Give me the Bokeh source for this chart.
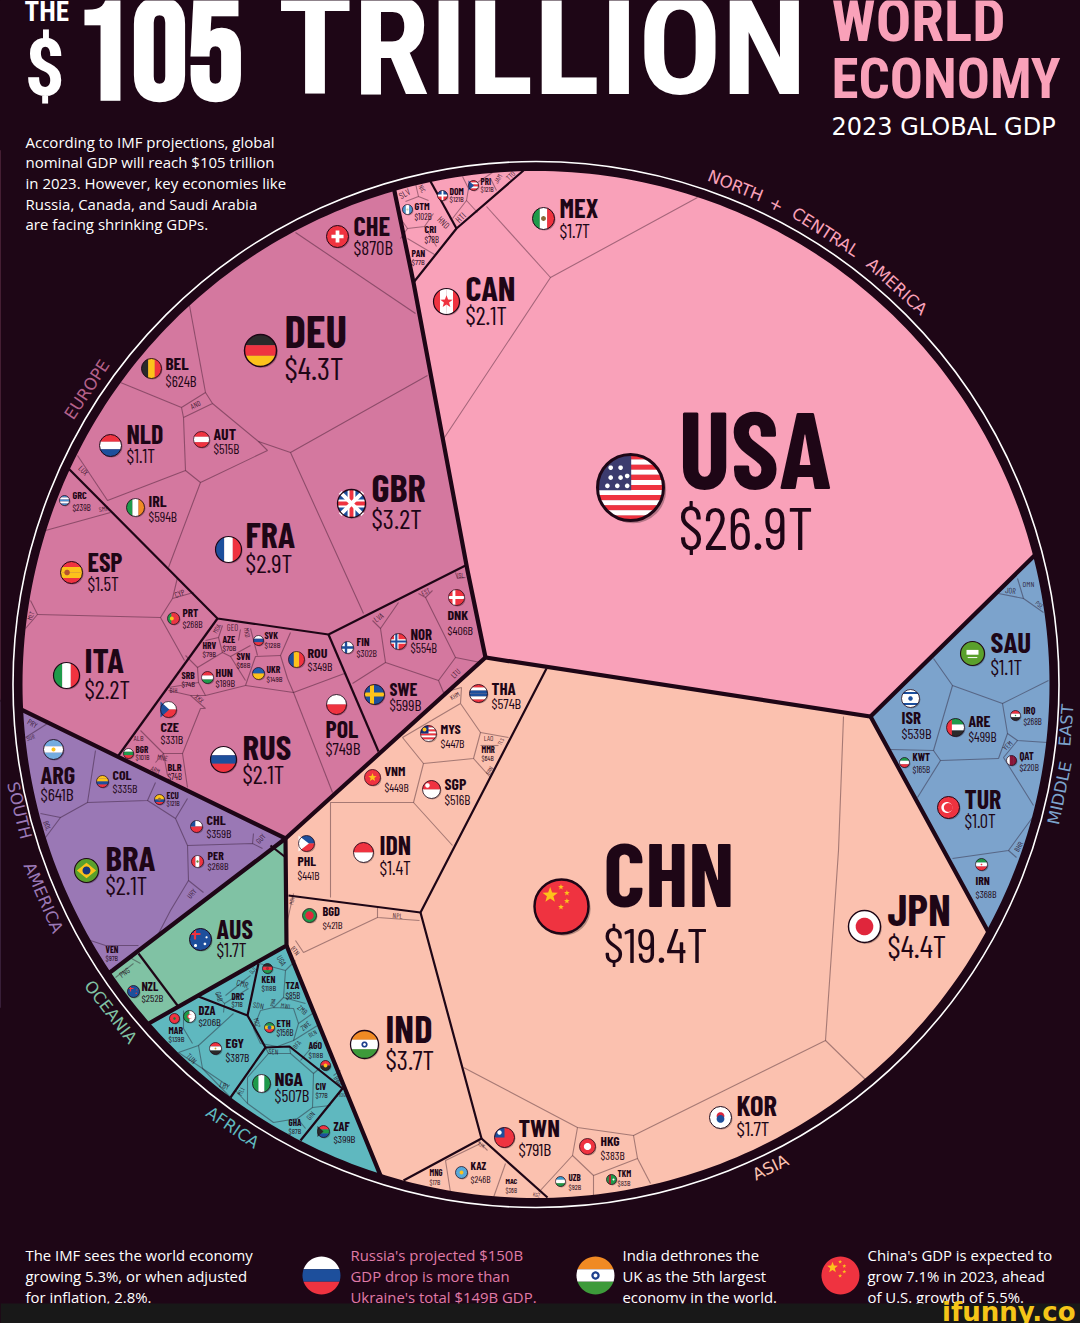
import numpy as np
from bokeh.plotting import figure
from bokeh.models import Range1d, ColumnDataSource
from bokeh.core.properties import value
from bokeh.embed import file_html
from bokeh.resources import INLINE

BG = "#1e0616"
CX, CY, R_IN, R_RING = 535.5, 684.0, 513.5, 523.0
COND = "Barlow Condensed"
TITLE = "Roboto Condensed"
BODY = "Open Sans"

# ---- regions: outlines of the Voronoi blocks (beyond the disc is masked)
REGION_NAMES = ["North + Central America", "Asia", "Middle East", "Europe", "South America", "Oceania", "Africa"]
REGION_COLORS = ["#f9a1b9", "#fbc1af", "#7ca3cc", "#d4789f", "#9a78b5", "#80c2a4", "#5fb8bf"]
REGION_SHAPES = [
    [(387,150),(520,100),(1100,100),(1100,490),(1034,555),(870,716),(485,657),(467,570),(413,282),(393,186)],
    [(485,657),(870,716),(987,930),(1060,1064),(1100,1300),(420,1300),(400,1225),(380,1175),(286,945),(285,838)],
    [(870,716),(1034,555),(1100,490),(1100,1050),(1060,1064),(987,930)],
    [(0,699),(0,150),(387,150),(393,186),(413,282),(467,570),(485,657),(285,838)],
    [(0,699),(285,838),(112,970),(60,1007),(0,1007)],
    [(285,838),(286,945),(150,1022),(110,1045),(60,1007),(112,970)],
    [(286,945),(380,1175),(400,1225),(100,1225),(110,1045),(150,1022)],
]
REGION_BORDERS = [
    [(387,150),(393,186),(413,282),(467,570),(485,657)],
    [(1100,490),(1034,555),(870,716),(485,657),(285,838),(0,699)],
    [(870,716),(987,930),(1060,1064)],
    [(285,838),(112,970),(60,1007)],
    [(285,838),(286,945),(150,1022),(110,1045)],
    [(286,945),(380,1175),(400,1225)],
]
BLOCK_BORDERS = [
    [(413,282),(456,228),(523,170)], [(424,170),(456,228)],
    [(68,468),(217,618),(328,634),(465,565)], [(217,618),(118,755)], [(328,634),(378,751)],
    [(546,668),(420,912),(288,895)], [(420,912),(481,1138),(403,1180)], [(481,1138),(547,1197)],
    [(198,996),(247,1015),(265,1047),(230,1097)], [(265,1047),(289,1046),(342,1088),(300,1140)], [(247,1015),(258,963)],
    [(138,953),(177,1005)], [(270,845),(284,856)],
]
CELL_EDGES = [
    # North + Central America
    [(697,197),(550,277),(442,440)], [(486,206),(550,277)],
    [(405,201),(418,196),(415,183)], [(418,196),(428,200)], [(400,218),(407,228),(424,226),(433,213)],
    [(407,228),(400,238)], [(424,226),(436,246)], [(407,238),(434,254)],
    [(440,172),(436,178)], [(462,176),(468,188),(466,200),(452,218)], [(466,200),(477,212)], [(468,188),(492,172)], [(490,178),(496,190)],
    # Europe
    [(295,232),(415,313)], [(189,305),(205,392)], [(120,382),(181,407)],
    [(181,407),(205,392),(212,403),(183,417),(181,407)], [(212,403),(258,441),(267,450),(200,482)],
    [(427,375),(290,452),(363,613)], [(258,441),(290,452)],
    [(183,417),(185,470),(200,482),(168,567)], [(185,470),(107,500)], [(77,455),(107,500)],
    [(45,530),(110,512)], [(30,600),(37,614),(25,628)], [(37,614),(160,617),(184,660)],
    [(177,577),(172,598),(193,592)], [(172,598),(160,617)],
    [(293,692),(332,792)], [(245,685),(293,692),(344,673)], [(200,708),(182,753),(187,787)],
    [(290,632),(280,655),(287,678),(293,692)], [(280,655),(255,656),(245,685)], [(250,628),(257,655)],
    [(230,656),(245,680)], [(218,637),(222,652),(230,656),(250,645)], [(197,667),(222,652)],
    [(185,655),(197,667),(198,682),(205,695),(245,685)], [(168,687),(198,682)], [(190,695),(205,708),(200,708)],
    [(190,695),(205,695)], [(168,690),(190,695)], [(182,753),(163,753),(140,730)], [(163,753),(155,762)], [(163,753),(167,775)],
    [(222,625),(218,637)], [(240,629),(238,640)], [(205,640),(218,637)],
    [(380,628),(398,602)], [(372,620),(380,628),(385,662),(352,683)], [(385,662),(438,680),(455,657),(425,597)],
    [(455,657),(480,662)], [(418,593),(425,597),(432,590)], [(455,572),(457,578),(465,577)], [(438,680),(443,692)],
    # Asia
    [(843,716),(838,850),(825,1040),(868,1082)], [(825,1040),(633,1135),(577,1127),(463,1067)],
    [(577,1127),(572,1155),(538,1192)], [(572,1155),(593,1175),(637,1158),(633,1135)], [(637,1158),(650,1183)], [(593,1175),(593,1196)],
    [(445,1160),(450,1192)], [(445,1160),(480,1143)], [(505,1163),(493,1197)], [(478,1141),(487,1150)],
    [(443,692),(461,687),(460,703),(480,732),(473,758),(423,763),(402,737),(460,703)], [(423,763),(413,802),(452,845)],
    [(330,802),(413,802)], [(330,802),(330,897)], [(480,745),(498,745)], [(480,732),(508,737)], [(473,758),(490,777)],
    [(377,907),(377,917),(419,920)], [(377,917),(303,952),(295,940)], [(293,893),(287,920)],
    # Middle East
    [(998,593),(1023,598),(1043,612)], [(1017,578),(1023,598)],
    [(933,658),(952,685),(1002,703),(1048,680)], [(952,685),(933,750),(940,760)], [(890,749),(933,750)],
    [(940,760),(917,797)], [(940,760),(998,758)], [(1002,703),(1007,733),(998,758)], [(1007,733),(1017,740),(1047,742)],
    [(1017,740),(1003,757),(1033,805)], [(1032,817),(1008,850),(952,858)], [(1008,850),(1016,857)],
    # South America
    [(25,737),(47,723)], [(95,750),(87,802),(60,817),(40,813)], [(60,817),(45,837)],
    [(87,802),(147,800),(155,782)], [(147,800),(175,818),(187,798)], [(175,818),(187,845),(252,843),(262,848)], [(252,843),(253,833)],
    [(187,845),(188,880),(170,910),(157,935)], [(188,880),(203,892)], [(90,940),(105,945),(138,945)],
    # Oceania
    [(115,977),(133,963)], [(135,953),(131,958),(140,963)],
    # Africa
    [(233,1013),(198,1045),(202,1068),(230,1097)], [(178,1052),(198,1045)], [(178,1052),(202,1068)],
    [(192,1043),(183,1028),(183,1010)], [(202,1068),(227,1085)],
    [(215,993),(224,1003),(223,1012)], [(224,1003),(248,988)], [(225,995),(250,975)],
    [(260,1010),(273,1007),(293,1008),(298,1023),(293,1040),(277,1046),(260,1043),(253,1028),(260,1010)],
    [(259,963),(285,970),(283,997),(273,1007)], [(285,970),(295,960)], [(283,997),(305,1003)], [(298,1023),(312,1013)], [(293,1040),(317,1025)],
    [(247,1077),(268,1053),(290,1053),(313,1073),(312,1107),(297,1118),(273,1122),(247,1103),(247,1077)],
    [(268,1053),(265,1047)], [(290,1053),(289,1046)], [(313,1073),(320,1067)], [(312,1107),(330,1105)], [(297,1118),(305,1128)], [(247,1103),(235,1090)],
    [(317,1040),(300,1060)], [(333,1075),(340,1070)],
]

# ---- country labels: code, value, flag x, y, r, text x, code y, value y, code size (px)
LABELS = [
    ("USA","$26.9T",630,487,33,678,450,528,109),
    ("CAN","$2.1T",446,301,13,465,288,316,34.5),
    ("MEX","$1.7T",543,218,11,559,208,231,26.5),
    ("GTM","$102B",407,209,5,414,206,216,10.2),
    ("DOM","$121B",442,195,5,449,191,199,9.6),
    ("PRI","$121B",473,185,5,480,181,189,9),
    ("CRI","$78B",None,None,0,424,229,239,10.2),
    ("PAN","$77B",None,None,0,411,253,262,9.6),
    ("CHE","$870B",337,236,11,353,226,248,26.5),
    ("DEU","$4.3T",260,350,16,284,332,368,45),
    ("BEL","$624B",151,368,10,165,363,381,17.4),
    ("NLD","$1.1T",110,445,11,126,434,456,26),
    ("AUT","$515B",201,439,8,213,434,449,15.8),
    ("GRC","$239B",64,500,5,72,495,507,10.2),
    ("IRL","$594B",135,507,9,148,501,517,16),
    ("FRA","$2.9T",228,549,13,245,535,563,36),
    ("GBR","$3.2T",351,503,14,371,488,519,38.5),
    ("ESP","$1.5T",71,572,11,87,562,584,26),
    ("PRT","$268B",173,618,6,182,613,624,11.3),
    ("ITA","$2.2T",66,675,13,84,660,690,35),
    ("SVK","$128B",258,640,5,264,635,645,9.6),
    ("AZE","$70B",None,None,0,222,639,648,9.6),
    ("HRV","$79B",None,None,0,202,645,654,9.6),
    ("SVN","$68B",None,None,0,236,656,665,9.6),
    ("ROU","$349B",296,659,8,307,653,666,14),
    ("HUN","$189B",207,677,6,215,672,683,11.8),
    ("UKR","$149B",258,673,6,266,669,679,9.6),
    ("SRB","$74B",None,None,0,181,675,684,9.6),
    ("CZE","$331B",168,709,8,160,727,739,14),
    ("BGR","$101B",128,753,5,135,749,757,9),
    ("BLR","$74B",None,None,0,167,767,776,10.2),
    ("RUS","$2.1T",223,759,13,242,747,775,35),
    ("POL","$749B",336,704,10,325,729,748,24),
    ("FIN","$302B",347,647,6,356,642,653,11.3),
    ("NOR","$554B",398,641,8,410,634,648,14.8),
    ("DNK","$406B",456,597,8,447,615,630,14),
    ("SWE","$599B",374,694,10,389,689,705,18),
    ("ARG","$641B",53,749,10,40,775,794,24.5),
    ("COL","$335B",102,781,6,112,775,788,14),
    ("ECU","$121B",159,799,5,166,795,803,9),
    ("CHL","$359B",196,826,6,206,820,833,14),
    ("PER","$268B",197,861,6,207,855,866,11.8),
    ("BRA","$2.1T",86,870,12,105,858,886,35),
    ("VEN","$97B",None,None,0,105,949,958,9),
    ("AUS","$1.7T",200,939,11,216,929,950,26),
    ("NZL","$252B",133,991,6,141,986,998,12.4),
    ("KEN","$118B",267,968,5,261,979,988,9.6),
    ("TZA","$85B",None,None,0,285,985,995,10.2),
    ("DRC","$71B",None,None,0,231,996,1004,9),
    ("ETH","$156B",269,1027,5,276,1023,1032,10.2),
    ("DZA","$206B",189,1016,6,198,1010,1022,12.4),
    ("MAR","$139B",174,1018,5,168,1030,1039,9.6),
    ("EGY","$387B",215,1048,6,225,1043,1057,13.5),
    ("AGO","$118B",325,1065,5,308,1045,1055,9.6),
    ("NGA","$507B",261,1083,9,274,1078,1095,19.5),
    ("CIV","$77B",None,None,0,315,1086,1095,9),
    ("GHA","$87B",None,None,0,288,1122,1131,9),
    ("ZAF","$399B",323,1131,6,333,1126,1139,12.4),
    ("CHN","$19.4T",561,906,27,603,875,945,90),
    ("JPN","$4.4T",864,926,16,887,910,946,44.5),
    ("IND","$3.7T",364,1044,14,385,1029,1060,38.5),
    ("THA","$574B",478,693,9,491,688,704,17),
    ("MYS","$447B",428,733,8,440,729,743,14),
    ("VNM","$449B",372,777,8,384,771,787,13.5),
    ("SGP","$516B",431,789,9,444,784,800,15.8),
    ("PHL","$441B",306,843,8,297,861,875,13.5),
    ("IDN","$1.4T",363,852,10,379,845,868,26),
    ("BGD","$421B",309,915,7,322,911,925,12.4),
    ("MMR","$64B",None,None,0,481,749,758,8.5),
    ("TWN","$791B",504,1137,10,518,1128,1149,24.8),
    ("HKG","$383B",587,1146,8,600,1141,1155,13.5),
    ("KOR","$1.7T",720,1117,11,736,1105,1129,28.5),
    ("KAZ","$246B",461,1172,6,470,1166,1179,11.3),
    ("MNG","$17B",None,None,0,429,1172,1182,8.5),
    ("MAC","$36B",None,None,0,505,1181,1190,8),
    ("UZB","$92B",560,1181,5,568,1177,1187,9),
    ("TKM","$83B",611,1179,5,617,1173,1183,9),
    ("SAU","$1.1T",972,653,12,990,642,667,29),
    ("ISR","$539B",910,698,9,901,717,734,17),
    ("ARE","$499B",955,727,9,968,721,737,15.8),
    ("IRQ","$268B",1015,715,5,1023,710,721,10.2),
    ("KWT","$165B",904,762,5,912,757,769,10.7),
    ("QAT","$220B",1011,760,5,1019,756,767,10.7),
    ("TUR","$1.0T",948,807,11,964,799,821,26),
    ("IRN","$368B",981,864,6,975,880,894,11.8),
]

# ---- very small cells: only a code; code, x, y, rotation (deg), size
SMALL_CODES = [
    ("SLV",404,193,30,8),("NIC",422,188,-60,6),("HND",443,222,-45,8),("HTI",460,217,45,8),("JAM",497,178,60,6),("TTO",510,175,45,6.5),
    ("AND",195,404,25,6.5),("LUX",83,470,-45,7),("SMR",103,508,10,6),("CYP",179,593,20,7),("MLT",30,615,70,6),
    ("MDA",216,628,60,6),("GEO",232,627,0,7.5),("MKD",247,632,-80,6),("BIH",173,689,0,6),("XKX",199,698,-40,6),("ALB",138,737,0,7),
    ("MNE",162,757,-10,6.5),("ARM",155,769,-25,6),("LVA",378,617,35,7),("EST",425,591,25,6),("ISL",460,574,0,6),("LTU",455,673,45,7),
    ("PRY",32,723,-30,7),("SUR",30,737,20,5.5),("BOL",47,825,-70,6.5),("GUY",260,838,50,6.5),("URY",191,893,50,6.5),("PNG",124,972,35,7),
    ("UGA",281,960,-60,7),("CMR",242,983,-15,7.5),("GAB",219,996,-75,6.5),("DJI",252,970,50,5.5),("SDN",258,1005,-10,7),("RWA",272,1002,80,5),
    ("MWI",285,1005,-10,6),("ZMB",302,1009,-40,6.5),("ZWE",305,1025,40,6.5),("BEN",312,1033,30,5.5),("MOZ",257,1022,-75,6),("TUN",191,1058,-45,7),
    ("LBY",224,1085,-20,7),("SEN",273,1051,-5,6.5),("BFA",296,1044,50,6),("BWA",338,1080,-55,6),("MDG",341,1094,0,5.5),("GIN",310,1115,50,6.5),("MLI",240,1091,65,6),
    ("LAO",488,737,0,6.5),("TLS",500,741,60,5),("BRN",489,770,60,5.5),("KHM",454,695,30,6),("NPL",397,915,-5,6.5),("BTN",295,950,-50,6),("MDV",291,900,80,5),
    ("TJK",481,1144,-30,5),("KGZ",536,1194,-10,5),
    ("OMN",1028,583,0,7),("JOR",1010,590,-5,7),("PSE",1039,604,-40,5.5),("YEM",1007,745,45,6.5),("BHR",1018,846,60,6.5),
]

# ---- region captions following the ring: word, angle clockwise from the top, radius, colour
ARC_WORDS = ["NORTH","+","CENTRAL","AMERICA","EUROPE","MIDDLE","EAST","SOUTH","AMERICA","OCEANIA","AFRICA","ASIA"]
ARC_ANGLES = [21.8,26.6,32.6,42.2,303.3,101.7,94.4,256.3,246.6,232.4,214.4,154.1]
ARC_RADII = [537,537,537,537,537,535,532,532,537,537,537,537]
ARC_COLORS = ["#f9a1b9"]*4 + ["#b5618a"] + ["#7ca3cc"]*2 + ["#9a78b5"]*2 + ["#80c2a4","#5fb8bf","#fbc1af"]

INTRO = ["According to IMF projections, global","nominal GDP will reach $105 trillion","in 2023. However, key economies like","Russia, Canada, and Saudi Arabia","are facing shrinking GDPs."]
NOTE_TEXT = [
    ["The IMF sees the world economy","growing 5.3%, or when adjusted","for inflation, 2.8%."],
    ["Russia's projected $150B","GDP drop is more than","Ukraine's total $149B GDP."],
    ["India dethrones the","UK as the 5th largest","economy in the world."],
    ["China's GDP is expected to","grow 7.1% in 2023, ahead","of U.S. growth of 5.5%."],
]
NOTE_X = [25,350,622,867]
NOTE_COLORS = ["#ffffff","#e07ba8","#ffffff","#ffffff"]
NOTE_FLAGS = [("RUS",321,1275,19),("IND",595,1275,19),("CHN",840,1275,19)]

# ---- flags: bands, then extra rectangles (x0,x1,y0,y1,colour), polygons, dots (x,y,r,colour), stars (x,y,r,colour)
RED,WHT,BLU,GRN,YEL,BLK = "#ef3340","#ffffff","#1d4f9c","#1f9a4a","#fcc21b","#2a2a2a"
FLAG_BANDS = {
    "USA":("h",[RED,WHT]*6+[RED]),"CAN":("v",[RED,WHT,WHT,RED]),"MEX":("v",[GRN,WHT,RED]),"GTM":("v",["#4997d0",WHT,"#4997d0"]),
    "DOM":("h",[BLU,RED]),"PRI":("h",[RED,WHT,RED,WHT,RED]),"CHE":("h",[RED]),"DEU":("h",[BLK,RED,YEL]),"BEL":("v",[BLK,YEL,RED]),
    "NLD":("h",[RED,WHT,BLU]),"AUT":("h",[RED,WHT,RED]),"GRC":("h",["#4a90d0",WHT,"#4a90d0",WHT,"#4a90d0"]),"IRL":("v",[GRN,WHT,"#f08a24"]),
    "FRA":("v",[BLU,WHT,RED]),"GBR":("h",[BLU]),"ESP":("h",[RED,YEL,YEL,RED]),"PRT":("v",[GRN,RED,RED]),"ITA":("v",[GRN,WHT,RED]),
    "SVK":("h",[WHT,BLU,RED]),"ROU":("v",[BLU,YEL,RED]),"HUN":("h",[RED,WHT,GRN]),"UKR":("h",["#1d5fae",YEL]),"CZE":("h",[WHT,RED]),
    "BGR":("h",[WHT,GRN,RED]),"RUS":("h",[WHT,BLU,RED]),"POL":("h",[WHT,RED]),"FIN":("h",[WHT]),"NOR":("h",[RED]),"DNK":("h",[RED]),
    "SWE":("h",[BLU]),"ARG":("h",["#74acdf",WHT,"#74acdf"]),"COL":("h",[YEL,YEL,BLU,RED]),"ECU":("h",[YEL,YEL,BLU,RED]),"CHL":("h",[WHT,RED]),
    "PER":("v",[RED,WHT,RED]),"BRA":("h",["#5aa02c"]),"AUS":("h",[BLU]),"NZL":("h",[BLU]),"KEN":("h",[BLK,RED,GRN]),"ETH":("h",[GRN,YEL,RED]),
    "DZA":("v",[GRN,WHT]),"MAR":("h",[RED]),"EGY":("h",[RED,WHT,BLK]),"AGO":("h",[RED,BLK]),"NGA":("v",[GRN,WHT,GRN]),"ZAF":("h",[RED,GRN,BLU]),
    "CHN":("h",[RED]),"JPN":("h",[WHT]),"IND":("h",["#f08a24",WHT,"#3d9a3a"]),"THA":("h",[RED,WHT,BLU,BLU,WHT,RED]),"MYS":("h",[RED,WHT]*4),
    "VNM":("h",[RED]),"SGP":("h",[RED,WHT]),"PHL":("h",[BLU,RED]),"IDN":("h",[RED,WHT]),"BGD":("h",[GRN]),"TWN":("h",[RED]),"HKG":("h",[RED]),
    "KOR":("h",[WHT]),"KAZ":("h",["#58a8d8"]),"UZB":("h",["#3a9bd0",WHT,GRN]),"TKM":("h",[GRN]),"SAU":("h",["#5aa02c"]),"ISR":("h",[WHT]),
    "ARE":("h",[GRN,WHT,BLK]),"IRQ":("h",[RED,WHT,BLK]),"KWT":("h",[GRN,WHT,RED]),"QAT":("v",[WHT,"#8a1538","#8a1538"]),"TUR":("h",[RED]),"IRN":("h",[GRN,WHT,RED]),
}
FLAG_RECTS = {
    "USA":[(-1,0.02,-1,0.08,"#3c3b6e")],"DOM":[(-1,1,-.18,.18,WHT),(-.18,.18,-1,1,WHT)],"CHE":[(-.55,.55,-.17,.17,WHT),(-.17,.17,-.55,.55,WHT)],
    "GBR":[(-1,1,-.28,.28,WHT),(-.28,.28,-1,1,WHT),(-1,1,-.14,.14,RED),(-.14,.14,-1,1,RED)],
    "FIN":[(-1,1,-.2,.2,BLU),(-.45,-.05,-1,1,BLU)],"NOR":[(-1,1,-.28,.28,WHT),(-.55,0,-1,1,WHT),(-1,1,-.14,.14,BLU),(-.4,-.14,-1,1,BLU)],
    "DNK":[(-1,1,-.18,.18,WHT),(-.5,-.14,-1,1,WHT)],"SWE":[(-1,1,-.2,.2,YEL),(-.45,-.05,-1,1,YEL)],"CHL":[(-1,-.2,-1,0,BLU)],
    "AUS":[(-1,0,-.6,-.4,RED),(-.6,-.4,-1,0,RED)],"NZL":[(-1,0,-.6,-.4,RED),(-.6,-.4,-1,0,RED)],"MYS":[(-1,0,-1,0,"#14307a")],
    "TWN":[(-1,0,-1,0,BLU)],"TKM":[(-.55,-.1,-1,1,"#b5232f")],"SAU":[(-.5,.5,-.3,.1,WHT),(-.4,.4,.3,.38,WHT)],"ISR":[(-1,1,-.72,-.5,BLU),(-1,1,.5,.72,BLU)],
    "ARE":[(-1,-.4,-1,1,RED)],
}
FLAG_POLYS = {
    "PRI":[([-1,.1,-1],[-1,0,1],BLU)],"CZE":[([-1,.1,-1],[-1,0,1],BLU)],"PHL":[([-1,.3,-1],[-1,0,1],WHT)],"ZAF":[([-1,0,-1],[-.9,0,.9],BLK)],
    "BRA":[([-.8,0,.8,0],[0,-.65,0,.65],YEL)],
    "GBR":[([-.9,-.7,.9,.7],[-.7,-.9,.7,.9],WHT),([.7,.9,-.7,-.9],[-.9,-.7,.9,.7],WHT)],
}
FLAG_DOTS = {
    "MEX":[(0,0,.22,"#8a6a3a")],"GTM":[(0,0,.22,"#c9d9b0")],"PRT":[(-.28,0,.32,YEL)],"ESP":[(-.4,0,.25,"#b5532f")],
    "ARG":[(0,0,.2,YEL)],"ECU":[(0,-.05,.3,"#8a6a3a")],"PER":[(0,0,.2,"#6a8a3a")],"BRA":[(0,0,.33,"#16357a")],"ETH":[(0,0,.38,"#1d5fae")],
    "DZA":[(.02,0,.4,RED),(.14,0,.33,WHT)],"MAR":[(0,0,.25,"#1a7a3a")],"AGO":[(0,0,.38,YEL)],"KEN":[(0,0,.3,"#b5232f")],"EGY":[(0,0,.15,"#c9a227")],
    "IND":[(0,0,.22,"#1d3f8c"),(0,0,.1,WHT)],"BGD":[(0,0,.6,"#e0263c")],"JPN":[(0,0,.55,"#e0263c")],"TWN":[(-.5,-.5,.22,WHT)],"HKG":[(0,0,.45,WHT)],
    "SGP":[(-.45,-.45,.25,WHT)],"MYS":[(-.5,-.5,.25,YEL)],"KOR":[(0,-.13,.35,"#d8263c"),(0,.13,.35,"#1d4f9c")],"KAZ":[(0,0,.32,YEL)],
    "TUR":[(-.15,0,.5,WHT),(-.02,0,.4,RED)],"ISR":[(0,0,.25,BLU)],"IRN":[(0,0,.14,RED)],"IRQ":[(0,0,.14,GRN)],
    "AUS":[(.4,.4,.12,WHT),(.55,-.2,.1,WHT),(-.45,.55,.14,WHT)],"NZL":[(.45,.3,.12,RED),(.55,-.25,.1,RED)],"TKM":[(.4,0,.2,WHT)],"USA":[(-.6,-.6,.07,WHT),(-.3,-.6,.07,WHT),(-.6,-.3,.07,WHT),(-.3,-.3,.07,WHT),(-.7,-.05,.07,WHT),(-.4,-.05,.07,WHT),(-.1,-.05,.07,WHT),(-.1,-.35,.07,WHT)],
}
FLAG_STARS = {
    "CHN":[(-.42,-.42,.3,YEL),(-.02,-.72,.11,YEL),(.2,-.5,.11,YEL),(.2,-.2,.11,YEL),(-.02,.02,.11,YEL)],
    "VNM":[(0,0,.55,YEL)],"CAN":[(0,.02,.5,RED)],
}


def clip_poly(px, py, x0, x1, y0, y1):
    def half(px, py, coord, bound, keep_less):
        ox, oy = [], []
        n = len(px)
        for i in range(n):
            a = (px[i], py[i]); b = (px[(i + 1) % n], py[(i + 1) % n])
            ca, cb = a[coord], b[coord]
            ia = ca <= bound if keep_less else ca >= bound
            ib = cb <= bound if keep_less else cb >= bound
            if ia:
                ox.append(a[0]); oy.append(a[1])
            if ia != ib:
                t = (bound - ca) / (cb - ca)
                ox.append(a[0] + t * (b[0] - a[0])); oy.append(a[1] + t * (b[1] - a[1]))
        return ox, oy
    for coord, bound, less in ((0, x0, False), (0, x1, True), (1, y0, False), (1, y1, True)):
        px, py = half(px, py, coord, bound, less)
        if not px:
            break
    return px, py


THETA = np.linspace(0, 2 * np.pi, 49)[:-1]
UX, UY = list(np.cos(THETA)), list(np.sin(THETA))


def flag_patches(code, fx, fy, fr):
    xs, ys, cs = [], [], []
    def add(px, py, c):
        if len(px) > 2:
            xs.append([fx + fr * v for v in px]); ys.append([fy + fr * v for v in py]); cs.append(c)
    orient, bands = FLAG_BANDS[code]
    n = len(bands)
    for i, c in enumerate(bands):
        a, b = -1 + 2 * i / n, -1 + 2 * (i + 1) / n
        if orient == "h":
            add(*clip_poly(UX, UY, -1, 1, a, b), c)
        else:
            add(*clip_poly(UX, UY, a, b, -1, 1), c)
    for x0, x1, y0, y1, c in FLAG_RECTS.get(code, []):
        add(*clip_poly(UX, UY, x0, x1, y0, y1), c)
    for px, py, c in FLAG_POLYS.get(code, []):
        add(px, py, c)
    for x, y, r, c in FLAG_DOTS.get(code, []):
        add([x + r * v for v in UX], [y + r * v for v in UY], c)
    for x, y, r, c in FLAG_STARS.get(code, []):
        a = -np.pi / 2 + np.arange(10) * np.pi / 5
        rr = np.where(np.arange(10) % 2 == 0, r, r * .42)
        add(list(x + rr * np.cos(a)), list(y + rr * np.sin(a)), c)
    return xs, ys, cs


def value_size(code_px):
    return code_px * (0.55 if code_px >= 60 else 0.71 if code_px >= 22 else 0.85)


p = figure(width=1080, height=1323, output_backend="svg", toolbar_location=None,
           x_range=Range1d(0, 1080), y_range=Range1d(1323, 0),
           x_axis_type=None, y_axis_type=None, min_border=0,
           background_fill_color=BG, border_fill_color=BG, outline_line_color=None)
p.grid.visible = False


def unzip(polys):
    return [[q[0] for q in s] for s in polys], [[q[1] for q in s] for s in polys]


rx, ry = unzip(REGION_SHAPES)
p.patches(xs=rx, ys=ry, fill_color=REGION_COLORS, line_color=REGION_COLORS, line_width=0.5)
ex, ey = unzip(CELL_EDGES)
p.multi_line(xs=ex, ys=ey, line_color=BG, line_alpha=0.38, line_width=1.1)
ex, ey = unzip(BLOCK_BORDERS)
p.multi_line(xs=ex, ys=ey, line_color=BG, line_width=2.2)
ex, ey = unzip(REGION_BORDERS)
p.multi_line(xs=ex, ys=ey, line_color=BG, line_width=4.2, line_join="miter")

# dark surround outside the disc, and the thin ring
t = np.linspace(0, 2 * np.pi, 361)
p.multi_polygons(xs=[[[[-50, 1130, 1130, -50], list(CX + R_IN * np.cos(t))]]],
                 ys=[[[[-50, -50, 1400, 1400], list(CY + R_IN * np.sin(t))]]],
                 fill_color=BG, line_color=None)
p.circle(x=[CX], y=[CY], radius=R_RING, fill_color=None, line_color="#ffffff", line_width=1.6)

# flags
fx_s, fy_s, fr_s = [], [], []
px_all, py_all, pc_all = [], [], []
for code, val, fx, fy, fr, *_ in LABELS:
    if fx is None:
        continue
    fx_s.append(fx); fy_s.append(fy); fr_s.append(fr)
    a, b, c = flag_patches(code, fx, fy, fr)
    px_all += a; py_all += b; pc_all += c
p.circle(x=[v + max(1, r * .08) for v, r in zip(fx_s, fr_s)], y=[v + max(1, r * .08) for v, r in zip(fy_s, fr_s)],
         radius=fr_s, fill_color="#000000", fill_alpha=0.28, line_color=None)
p.patches(xs=px_all, ys=py_all, fill_color=pc_all, line_color=None)
p.circle(x=fx_s, y=fy_s, radius=fr_s, fill_color=None, line_color=BG,
         line_width=[max(0.7, r * .09) for r in fr_s])

# country labels
ct = ColumnDataSource(dict(
    x=[l[5] for l in LABELS], y=[l[6] - 0.05 * l[8] for l in LABELS], text=[l[0] for l in LABELS],
    fs=[f"{l[8]:.1f}px" for l in LABELS]))
p.text(x="x", y="y", text="text", source=ct, text_font=value(COND), text_font_style="bold",
       text_font_size="fs", text_color=BG, text_baseline="middle", text_align="left")
vt = ColumnDataSource(dict(
    x=[l[5] for l in LABELS], y=[l[7] - 0.05 * value_size(l[8]) for l in LABELS], text=[l[1] for l in LABELS],
    fs=[f"{value_size(l[8]):.1f}px" for l in LABELS]))
p.text(x="x", y="y", text="text", source=vt, text_font=value(COND),
       text_font_size="fs", text_color=BG, text_baseline="middle", text_align="left")
st = ColumnDataSource(dict(
    x=[s[1] for s in SMALL_CODES], y=[s[2] for s in SMALL_CODES], text=[s[0] for s in SMALL_CODES],
    angle=[np.deg2rad(s[3]) for s in SMALL_CODES], fs=[f"{s[4] * 1.15:.1f}px" for s in SMALL_CODES]))
p.text(x="x", y="y", text="text", angle="angle", source=st, text_font=value(COND), text_font_size="fs",
       text_color=BG, text_alpha=0.8, text_baseline="middle", text_align="center")

# ring captions
ang = np.deg2rad(ARC_ANGLES)
rad = np.array(ARC_RADII)
rot = [np.pi - a if 90 < d < 270 else -a for a, d in zip(ang, ARC_ANGLES)]
ra = ColumnDataSource(dict(x=CX + rad * np.sin(ang), y=CY - rad * np.cos(ang), text=ARC_WORDS, angle=rot, color=ARC_COLORS))
p.text(x="x", y="y", text="text", angle="angle", text_color="color", source=ra, text_font=value("DejaVu Sans"),
       text_font_size="16.5px", text_baseline="middle", text_align="center")

# title
p.text(x=[24], y=[11], text=["THE"], text_font=value(TITLE), text_font_style="bold", text_font_size="27px",
       text_color="#ffffff", text_baseline="middle")
p.text(x=[24], y=[67], text=["$"], text_font=value(TITLE), text_font_style="bold", text_font_size="80px",
       text_color="#ffffff", text_baseline="middle")
p.text(x=[75], y=[47], text=["105"], text_font=value("Bebas Neue"), text_font_style="bold", text_font_size="140px",
       text_color="#ffffff", text_baseline="middle")
p.text(x=[277], y=[46], text=["TRILLION"], text_font=value(TITLE), text_font_style="bold", text_font_size="139px",
       text_color="#ffffff", text_baseline="middle")
p.text(x=[831], y=[20], text=["WORLD"], text_font=value(TITLE), text_font_style="bold", text_font_size="59px",
       text_color="#f9a1b9", text_baseline="middle")
p.text(x=[831], y=[78], text=["ECONOMY"], text_font=value(TITLE), text_font_style="bold", text_font_size="55px",
       text_color="#f9a1b9", text_baseline="middle")
p.text(x=[831], y=[126], text=["2023 GLOBAL GDP"], text_font=value("DejaVu Sans"), text_font_size="24px",
       text_color="#ffffff", text_baseline="middle")

# intro
p.text(x=[25] * len(INTRO), y=[141 + 20.7 * i for i in range(len(INTRO))], text=INTRO, text_font=value(BODY),
       text_font_size="15px", text_color="#ffffff", text_baseline="middle")

# footer
for tx, lines, col in zip(NOTE_X, NOTE_TEXT, NOTE_COLORS):
    p.text(x=[tx] * 3, y=[1254 + 21 * i for i in range(3)], text=lines, text_font=value(BODY),
           text_font_size="14.9px", text_color=col, text_baseline="middle")
for code, fx, fy, fr in NOTE_FLAGS:
    a, b, c = flag_patches(code, fx, fy, fr)
    p.patches(xs=a, ys=b, fill_color=c, line_color=None)
p.quad(left=[0], right=[1080], top=[1303], bottom=[1330], fill_color="#181818", line_color=None)
p.text(x=[1075], y=[1311], text=["ifunny.co"], text_font=value("DejaVu Sans"), text_font_style="bold",
       text_font_size="26px", text_color="#f5c518", text_align="right", text_baseline="middle")

html = file_html(p, INLINE)
html = html.replace("</head>", f"<style>html,body{{margin:0;padding:0;background:{BG};overflow:hidden}}</style></head>", 1)
open("out.html", "w").write(html)
